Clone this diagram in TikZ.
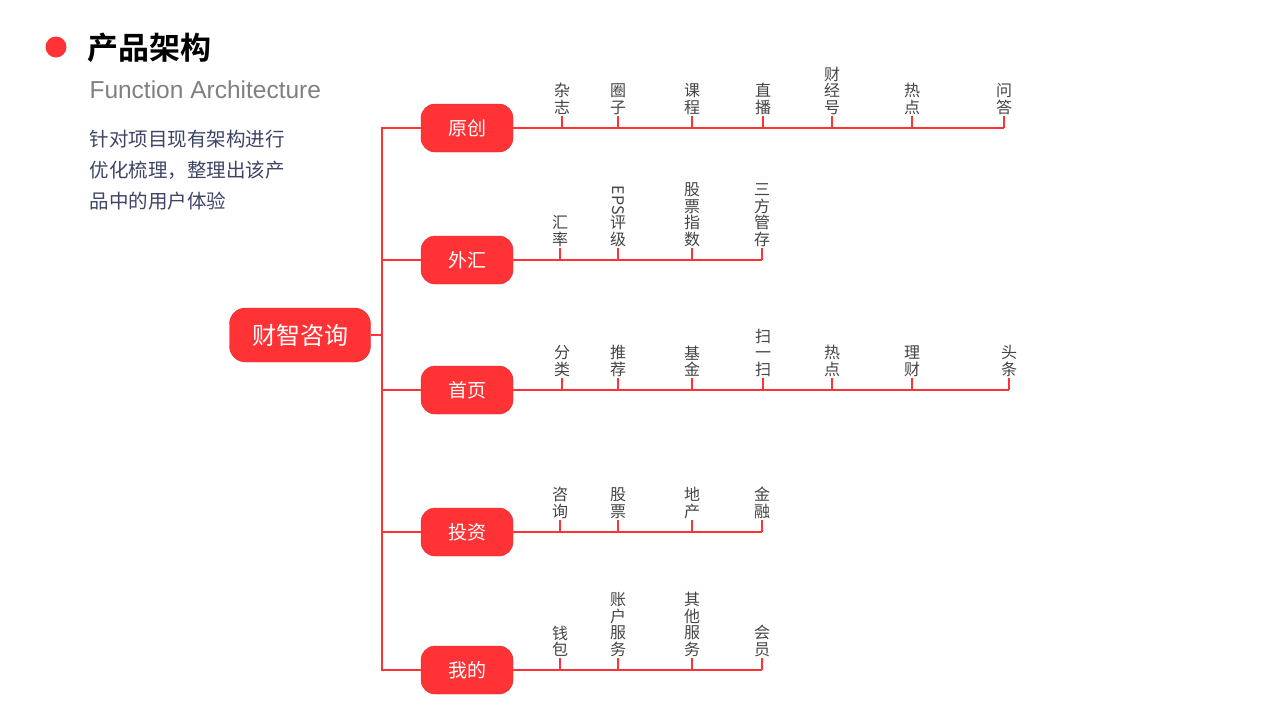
\documentclass[tikz,border=0pt]{standalone}
\usepackage{fontspec}
\setmainfont{Noto Sans CJK SC}[BoldFont={Noto Sans CJK SC Bold}]
\newfontfamily\latin{Liberation Sans}
\usetikzlibrary{positioning}
\definecolor{mred}{HTML}{FF3236}
\definecolor{leafgray}{HTML}{444444}
\definecolor{slate}{HTML}{3D4466}
\tikzset{x=1pt, y=-1pt, font=\fontsize{16}{16.5}\selectfont}
\tikzstyle{root} = [draw=mred!85!black, fill=mred, rounded corners=16pt, minimum width=141pt, minimum height=54pt, text=white, font=\fontsize{24}{24}\selectfont]
\tikzstyle{branch} = [draw=mred!85!black, fill=mred, rounded corners=14pt, minimum width=92pt, minimum height=48pt, text=white, font=\fontsize{19}{19}\selectfont]
\tikzstyle{leaf} = [anchor=south, align=center, inner sep=1pt, text=leafgray]
\tikzstyle{link} = [draw=mred, line width=1.1pt]
\newcommand{\leaves}[3]{% branch name, end x, list
  \coordinate (#1-end) at (#2,0 |- #1.east);
  \draw [link] (#1.east) -- (#1-end);
  \foreach \x/\t in {#3} {
    \coordinate (#1-\x) at (\x,0 |- #1.east);
    \draw [link] (#1-\x) -- ++(0,-12) node [leaf] {\t};
  }}
\begin{document}
\begin{tikzpicture}
  \useasboundingbox (0,0) rectangle (1280,720);
  % heading
  \fill [mred] (56,47) circle (10.5);
  \node [anchor=west, font=\fontsize{31}{31}\selectfont\bfseries] (title) at (84,48) {产品架构};
  \node [anchor=west, text=gray, font=\latin\fontsize{24.5}{24.5}\selectfont] (subtitle) at (86,90) {Function Architecture};
  \node [anchor=north west, align=left, text=slate, font=\fontsize{19.5}{31}\selectfont] (desc) at (86,127) {针对项目现有架构进行\\优化梳理，整理出该产\\品中的用户体验};

  % tree
  \node [root] (root) at (300,335) {财智咨询};
  \node [branch] (yc) at (467,128) {原创};
  \node [branch] (wh) at (467,260) {外汇};
  \node [branch] (sy) at (467,390) {首页};
  \node [branch] (tz) at (467,532) {投资};
  \node [branch] (wd) at (467,670) {我的};
  \coordinate (trunk) at (382,335);

  \draw [link] (root.east) -- (trunk);
  \draw [link] (yc.west) -| (trunk) |- (wd.west);
  \foreach \b in {wh, sy, tz} \draw [link] (trunk |- \b.west) -- (\b.west);

  \leaves{yc}{1004}{562/杂\\志, 618/圈\\子, 692/课\\程, 763/直\\播, 832/财\\经\\号, 912/热\\点, 1004/问\\答}
  \leaves{wh}{762}{560/汇\\率, 618/\rotatebox{-90}{EPS}\\评\\级, 692/股\\票\\指\\数, 762/三\\方\\管\\存}
  \leaves{sy}{1009}{562/分\\类, 618/推\\荐, 692/基\\金, 763/扫\\一\\扫, 832/热\\点, 912/理\\财, 1009/头\\条}
  \leaves{tz}{762}{560/咨\\询, 618/股\\票, 692/地\\产, 762/金\\融}
  \leaves{wd}{762}{560/钱\\包, 618/账\\户\\服\\务, 692/其\\他\\服\\务, 762/会\\员}
\end{tikzpicture}
\end{document}
